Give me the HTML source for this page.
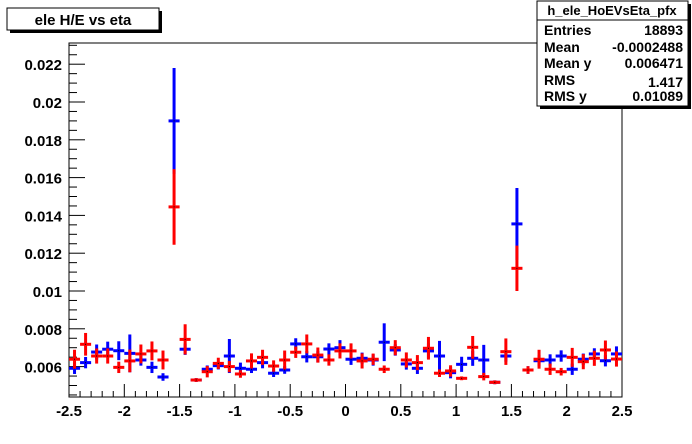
<!DOCTYPE html>
<html><head><meta charset="utf-8"><style>
body{margin:0;background:#fff;}
svg{display:block;font-family:"Liberation Sans",Arial,sans-serif;font-weight:bold;}
</style></head><body>
<svg id="c" width="692" height="444" viewBox="0 0 692 444">
<rect x="0" y="0" width="692" height="444" fill="#fff"/>
<g id="axes"></g>
<g id="marks"></g>
<g>
<rect x="10" y="11" width="152" height="22" fill="#000"/>
<rect x="7" y="8" width="152" height="22" fill="#fff" stroke="#000" stroke-width="1"/>
<text x="83" y="25" text-anchor="middle" font-size="15">ele H/E vs eta</text>
</g>
<g font-size="14">
<rect x="540" y="4" width="151" height="105" fill="#000"/>
<rect x="537" y="1" width="151" height="105" fill="#fff" stroke="#000"/>
<text x="612" y="15" text-anchor="middle" font-size="13">h_ele_HoEVsEta_pfx</text>
<line x1="537" y1="20" x2="688" y2="20" stroke="#000"/>
<text x="544" y="35">Entries</text><text x="683" y="35" text-anchor="end">18893</text>
<text x="544" y="52">Mean</text><text x="683" y="52" text-anchor="end">-0.0002488</text>
<text x="544" y="68">Mean y</text><text x="683" y="68" text-anchor="end">0.006471</text>
<text x="544" y="85">RMS</text><text x="683" y="87" text-anchor="end">1.417</text>
<text x="544" y="101">RMS y</text><text x="683" y="101" text-anchor="end">0.01089</text>
</g>
</svg>
<script>
const blueVals=[0.00591,0.00621,0.00677,0.00692,0.00684,0.00670,0.00635,0.00596,0.00545,0.0190,
0.00692,0.00529,0.00586,0.00605,0.00656,0.00591,0.00586,0.00621,0.00565,0.00582,
0.00720,0.00652,0.00652,0.00693,0.00700,0.00639,0.00644,0.00635,0.00729,0.00688,
0.00614,0.00591,0.00683,0.00656,0.00568,0.00612,0.00644,0.00635,0.00517,0.00656,
0.01355,0.00582,0.00631,0.00635,0.00656,0.00586,0.00639,0.00667,0.00631,0.00667];
const blueErr=[3,3,4,4,5,10,3,3,2,28,3,1,2,2,9,3,2,3,2,2,3,3,3,3,4,3,3,3,10,3,3,3,4,8,3,4,4,8,1,3,19,2,3,3,3,3,3,3,3,4];
const redVals=[0.00639,0.00718,0.00656,0.00656,0.00596,0.00630,0.00667,0.00683,0.00635,0.01445,
0.00744,0.00529,0.00573,0.00617,0.00600,0.00561,0.00630,0.00649,0.00603,0.00635,
0.00676,0.00720,0.00661,0.00635,0.00683,0.00683,0.00630,0.00639,0.00586,0.00700,
0.00635,0.00621,0.00697,0.00565,0.00577,0.00538,0.00702,0.00547,0.00517,0.00679,
0.0112,0.00582,0.00639,0.00586,0.00573,0.00649,0.00626,0.00644,0.00688,0.00640];
const redErr=[5,6,4,4,3,6,5,5,5,20,8,1,3,3,3,2,4,4,3,5,3,5,4,3,4,4,4,3,2,4,4,4,6,2,3,1,6,2,1,7,12,2,5,3,2,5,4,4,5,4];
const xTicks=["-2.5","-2","-1.5","-1","-0.5","0","0.5","1","1.5","2","2.5"];
const yTicks=["0.006","0.008","0.01","0.012","0.014","0.016","0.018","0.02","0.022"];
const X0=69,X1=622,Y0=397,Y1=43,xmin=-2.5,xmax=2.5;
const ymin=0.006-(397-366.6)/18900, ymax=0.006+(366.6-43)/18900;
const sx=v=>X0+(v-xmin)/(xmax-xmin)*(X1-X0);
const sy=v=>Y0-(v-ymin)/(ymax-ymin)*(Y0-Y1);
const NS="http://www.w3.org/2000/svg";
function mk(t,a,p){const e=document.createElementNS(NS,t);for(const k in a)e.setAttribute(k,a[k]);p.appendChild(e);return e;}
const ax=document.getElementById('axes');
const fr=mk('rect',{x:X0,y:Y1,width:X1-X0,height:Y0-Y1,fill:'none',stroke:'#000'},ax);


for(let i=0;i<=50;i++){const v=xmin+i*0.1;const x=sx(v);const big=i%5==0;
 const t=mk('line',{x1:x,x2:x,y1:Y0,y2:Y0-(big?13:6),stroke:'#000'},ax);
 
 }
xTicks.forEach(s=>{const t=mk('text',{x:sx(parseFloat(s)),y:416,'text-anchor':'middle','font-size':15},ax);t.textContent=s;
 
 });
for(let v=0.0045;v<ymax;v+=0.0005){const y=sy(v);const big=Math.abs(Math.round(v*1e4)%20)<0.5;
 const t=mk('line',{x1:X0,x2:X0+(big?16:8),y1:y,y2:y,stroke:'#000'},ax);
 
 }
yTicks.forEach(s=>{const t=mk('text',{x:62,y:sy(parseFloat(s))+6,'text-anchor':'end','font-size':15},ax);t.textContent=s;
 
 });
const mg=document.getElementById('marks');
function series(vals,errs,col,name){
 vals.forEach((v,i)=>{const c=xmin+(i+0.5)*0.1;const x=sx(c),y=sy(v),e=errs[i]*1e-4;
  const g=mk('g',{},mg);
  
  
  mk('line',{x1:x,x2:x,y1:sy(v+e),y2:sy(v-e),stroke:col,'stroke-width':3},g);
  mk('line',{x1:sx(c-0.05),x2:sx(c+0.05),y1:y,y2:y,stroke:col,'stroke-width':3},g);
  mk('rect',{x:x-0.5,y:y-0.5,width:1,height:1,fill:'#000'},g);
 });
}
series(blueVals,blueErr,'#0000ff','blue-series');
series(redVals,redErr,'#ff0000','red-series');
</script>
</body></html>
